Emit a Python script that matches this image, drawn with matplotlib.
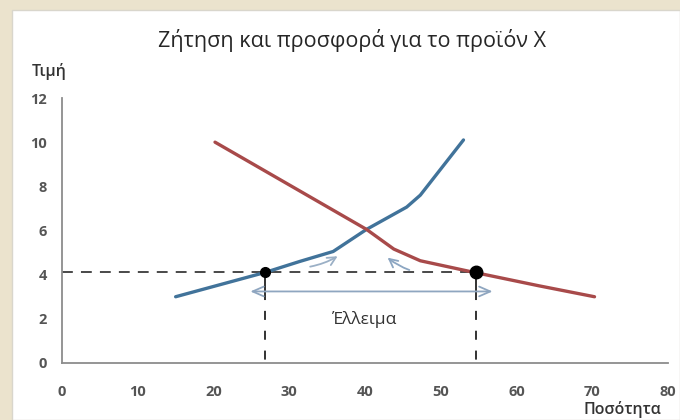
import matplotlib
matplotlib.use("Agg")
import matplotlib.pyplot as plt
from matplotlib.patches import Rectangle

plt.rcParams['font.family'] = ['Open Sans', 'DejaVu Sans']

# ---- data ----
supply_q = [15, 26.8, 31.4, 35.8, 40.2, 45.5, 47.3, 53.0]
supply_p = [3, 4.1, 4.6, 5.05, 6.05, 7.06, 7.6, 10.1]
demand_q = [20.2, 40.2, 43.8, 47.3, 53.5, 62.9, 70.3]
demand_p = [10, 6.05, 5.16, 4.63, 4.17, 3.5, 3.0]
price_level = 4.1
q_supplied = 26.8
q_demanded = 54.7
shortage_arrow_y = 3.24
shortage_arrow_x = [24.5, 57.2]
x_ticks = [0, 10, 20, 30, 40, 50, 60, 70, 80]
y_ticks = [0, 2, 4, 6, 8, 10, 12]
title = "Ζήτηση και προσφορά για το προϊόν X"
ylabel = "Τιμή"
xlabel = "Ποσότητα"
gap_label = "Έλλειμα"

fig = plt.figure(figsize=(6.8, 4.2), dpi=100)
fig.patch.set_facecolor('#EBE3CD')
fig.patches.append(Rectangle((12/680, 0), 1 - 12/680, 1 - 10/420, transform=fig.transFigure,
                             facecolor='white', edgecolor='#D9D6CC', lw=1.0, zorder=-5))

ax = fig.add_axes([62/680, 1 - 363/420, (668 - 62)/680, (363 - 98)/420])
ax.set_zorder(2)
ax.set_facecolor('none')
ax.set_xlim(0, 80)
ax.set_ylim(0, 12)
for s in ['top', 'right']:
    ax.spines[s].set_visible(False)
for s in ['left', 'bottom']:
    ax.spines[s].set_color('#8C8C8C')
    ax.spines[s].set_linewidth(1.3)
ax.set_xticks(x_ticks)
ax.set_yticks(y_ticks)
ax.tick_params(axis='both', length=0, labelsize=10.5, labelcolor='#555555')
ax.tick_params(axis='x', pad=16)
ax.tick_params(axis='y', pad=11)
for lab in ax.get_xticklabels() + ax.get_yticklabels():
    lab.set_fontweight('bold')
ax.xaxis.get_majorticklabels()[-1].set_clip_on(False)

blue = '#41739A'
red = '#A84A4A'
ax.plot(supply_q, supply_p, color=blue, lw=2.4, solid_capstyle='round',
        solid_joinstyle='round', zorder=3)
ax.plot(demand_q, demand_p, color=red, lw=2.4, solid_capstyle='round',
        solid_joinstyle='round', zorder=3)

# price line and quantity lines
ax.plot([0, q_demanded], [price_level, price_level], color='#3A3A3A', lw=1.3,
        dashes=(6, 4.5), zorder=2)
for q in [q_supplied, q_demanded]:
    ax.plot([q, q], [price_level, shortage_arrow_y], color='#222222', lw=1.3, zorder=2)
    ax.plot([q, q], [shortage_arrow_y, 0], color='#222222', lw=1.3, dashes=(5, 6), zorder=2)
ax.plot([q_supplied], [price_level], 'o', color='black', ms=7, zorder=5)
ax.plot([q_demanded], [price_level], 'o', color='black', ms=9, zorder=5)

# shortage double arrow
ax.annotate('', xy=(shortage_arrow_x[0], shortage_arrow_y), xytext=(shortage_arrow_x[1], shortage_arrow_y),
            arrowprops=dict(arrowstyle='<->,head_length=0.8,head_width=0.35', color='#8FA6C0', lw=1.3),
            zorder=4)
ax.text(40, 1.95, gap_label, ha='center', va='center', fontsize=12.5, color='#333333')

# movement arrows
ax.annotate('', xy=(36.7, 4.9), xytext=(32.4, 4.34),
            arrowprops=dict(arrowstyle='->,head_length=0.6,head_width=0.3', color='#9BB0C6', lw=1.3,
                            connectionstyle='arc3,rad=0.1'))
ax.annotate('', xy=(42.7, 4.85), xytext=(46.2, 4.17),
            arrowprops=dict(arrowstyle='->,head_length=0.6,head_width=0.3', color='#8CA6C2', lw=1.3,
                            connectionstyle='arc3,rad=-0.1'))

fig.text(352/680, 1 - 40/420, title, ha='center', va='center', fontsize=15.5, color='#262626')
fig.text(49/680, 1 - 72/420, ylabel, ha='center', va='center', fontsize=11.5, color='#333333',
         fontweight='semibold')
fig.text(622/680, 1 - 410/420, xlabel, ha='center', va='center', fontsize=11.5, color='#333333',
         fontweight='semibold')

fig.savefig('out.png', dpi=100, facecolor=fig.get_facecolor())
